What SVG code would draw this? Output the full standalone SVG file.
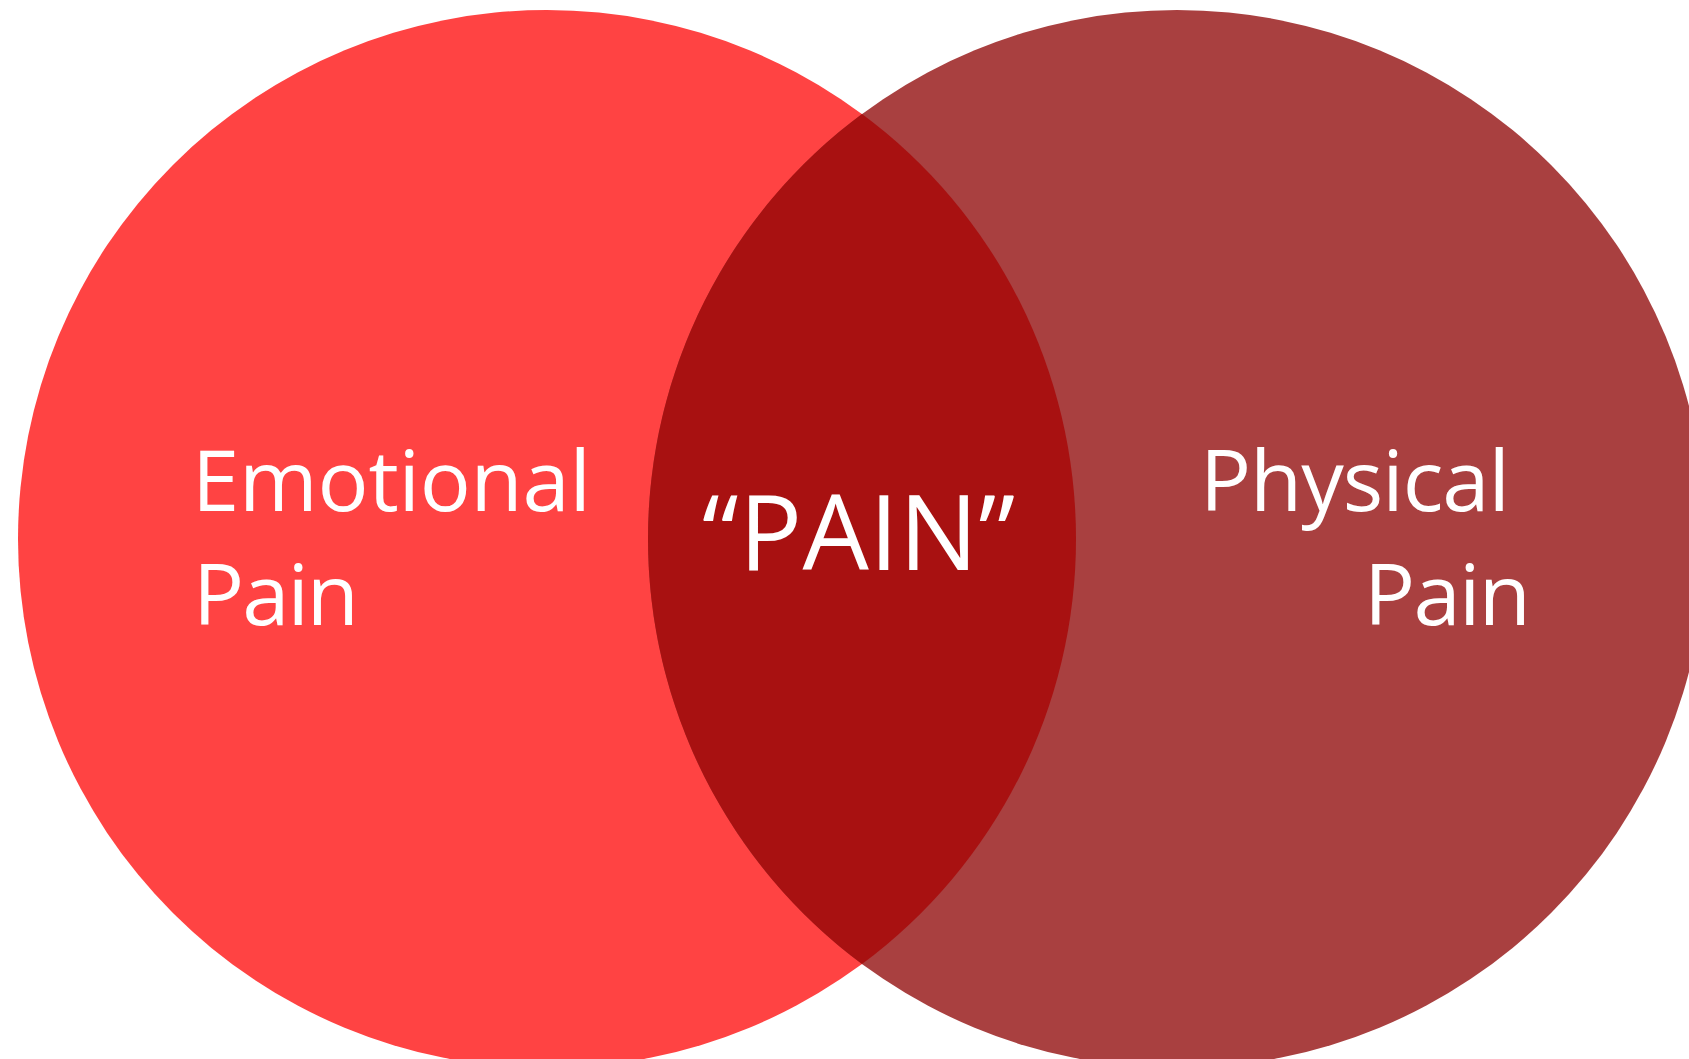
<svg xmlns="http://www.w3.org/2000/svg" width="1689" height="1059" viewBox="0 0 1689 1059">
  <style>
    .label { font-family: "Open Sans", Lato, "Liberation Sans", sans-serif; fill: #ffffff; }
    .side { font-size: 85px; }
    .core { font-size: 105px; }
  </style>
  <rect width="1689" height="1059" fill="#ffffff"/>
  <g id="emotional">
    <circle cx="547" cy="539" r="529" fill="#ff4343"/>
  </g>
  <g id="physical">
    <circle cx="1177" cy="539" r="529" fill="#a94040"/>
  </g>
  <g id="overlap">
    <path d="M 862 114 A 529 529 0 0 1 862 964 A 529 529 0 0 1 862 114 Z" fill="#a81111"/>
  </g>
  <g id="connectors"></g>
  <g id="labels" class="label">
    <text class="side" x="192" y="511" textLength="399">Emotional</text>
    <text class="side" x="193" y="625" textLength="166">Pain</text>
    <text class="core" x="702" y="570" textLength="313">“PAIN”</text>
    <text class="side" x="1200" y="511" textLength="310">Physical</text>
    <text class="side" x="1364" y="625" textLength="167">Pain</text>
  </g>
</svg>
